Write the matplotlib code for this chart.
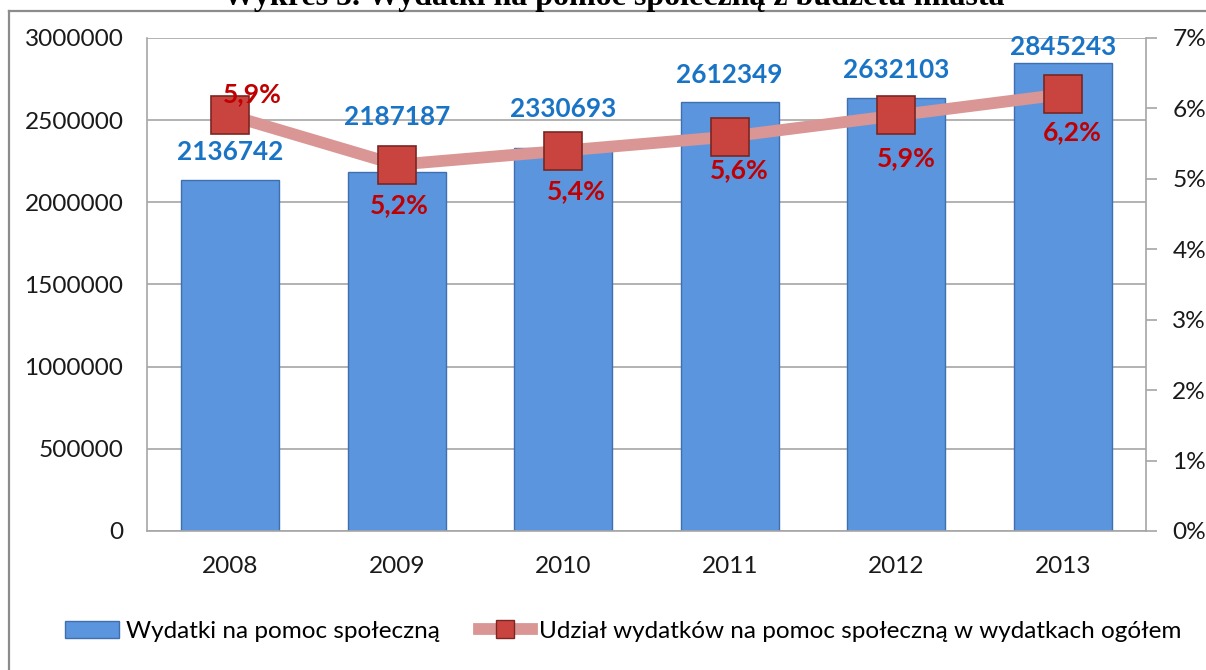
import matplotlib
matplotlib.use("Agg")
import numpy as np
import matplotlib.pyplot as plt
from matplotlib.lines import Line2D
from matplotlib.patches import Patch
from matplotlib.ticker import FuncFormatter

# Data
years = ["2008", "2009", "2010", "2011", "2012", "2013"]
spending = [2136742, 2187187, 2330693, 2612349, 2632103, 2845243]  # PLN
share_pct = [5.9, 5.2, 5.4, 5.6, 5.9, 6.2]  # % of total spending

plt.rcParams['font.family'] = ['Lato', 'DejaVu Sans']

bar_color = "#5b95de"
bar_edge = "#3f6fae"
line_color = "#d99694"
marker_face = "#c9443f"
marker_edge = "#7a2622"
grid_color = "#a6a6a6"

fig = plt.figure(figsize=(12.06, 6.70), dpi=100)
ax = fig.add_axes([0.1219, 0.2075, 0.8283, 0.7358])
ax2 = ax.twinx()

x = np.arange(len(years))
bars = ax.bar(x, spending, width=0.59, color=bar_color, edgecolor=bar_edge, linewidth=1.0, zorder=2)

ax.set_xlim(-0.5, len(years) - 0.5)
ax.set_ylim(0, 3000000)
ax.set_yticks(np.arange(0, 3000001, 500000))
ax.yaxis.set_major_formatter(FuncFormatter(lambda v, p: f"{int(v)}"))
ax.set_xticks(x)
ax.set_xticklabels(years)
ax.tick_params(axis="y", length=0, pad=17, labelsize=17.6, colors="#1a1a1a")
ax.tick_params(axis="x", length=0, pad=18, labelsize=17.6, colors="#1a1a1a")
ax.grid(axis="y", color=grid_color, linewidth=1.2)
ax.set_axisbelow(True)
for side in ["left", "bottom"]:
    ax.spines[side].set_color(grid_color)
    ax.spines[side].set_linewidth(1.2)
ax.spines["top"].set_visible(False)
ax.spines["right"].set_visible(False)

# share line on secondary axis
ax2.plot(x, share_pct, color=line_color, linewidth=8.5, solid_capstyle="butt",
         marker="s", markersize=27, markerfacecolor=marker_face,
         markeredgecolor=marker_edge, markeredgewidth=1.2, zorder=3)
ax2.set_ylim(0, 7)
ax2.set_yticks(np.arange(0, 8, 1))
ax2.yaxis.set_major_formatter(FuncFormatter(lambda v, p: f"{int(v)}%"))
ax2.tick_params(axis="y", length=8, width=1.2, color=grid_color, pad=11,
                labelsize=17.6, labelcolor="#1a1a1a")
for side in ["left", "bottom", "top"]:
    ax2.spines[side].set_visible(False)
ax2.spines["right"].set_color(grid_color)
ax2.spines["right"].set_linewidth(1.2)

# value labels (hand placed, as in the original)
bar_label_dy = [20, 47, 31, 19, 20, 8]
for xi, val, dy in zip(x, spending, bar_label_dy):
    ax2.annotate(f"{val}", xy=(xi, val / 3000000 * 7), xytext=(0, dy),
                 textcoords="offset pixels", ha="center", va="baseline",
                 fontsize=18.8, fontweight="bold", color="#1a74c6", zorder=5)

pct_label_off = [(22, 13), (3, -48), (13, -48), (10, -42), (10, -51), (10, -46)]
for xi, val, (dx, dy) in zip(x, share_pct, pct_label_off):
    ax2.annotate(f"{val:.1f}%".replace(".", ","), xy=(xi, val), xytext=(dx, dy),
                 textcoords="offset pixels", ha="center", va="baseline",
                 fontsize=19.2, fontweight="bold", color="#c00000", zorder=5)

# legend
handles = [
    Patch(facecolor=bar_color, edgecolor=bar_edge, linewidth=1.0),
    Line2D([0], [0], color=line_color, linewidth=8.5, marker="s", markersize=13,
           markerfacecolor=marker_face, markeredgecolor=marker_edge),
]
labels = ["Wydatki na pomoc społeczną",
          "Udział wydatków na pomoc społeczną w wydatkach ogółem"]
fig.legend(handles, labels, loc="center", bbox_to_anchor=(0.517, 0.058), ncol=2,
           frameon=False, fontsize=17.5, handlelength=2.2, handletextpad=0.3,
           columnspacing=1.6, numpoints=1)

# chart frame (partially cut off like in the scan)
frame_color = "#8c8c8c"
fig.add_artist(Line2D([9 / 1206, 9 / 1206], [0, 659 / 670], transform=fig.transFigure,
                      color=frame_color, linewidth=1.6))
fig.add_artist(Line2D([9 / 1206, 1], [659 / 670, 659 / 670], transform=fig.transFigure,
                      color=frame_color, linewidth=1.6))

# title, cut off at the top edge as in the scan
fig.text(0.509, 0.9925, "Wykres 5. Wydatki na pomoc społeczną z budżetu miasta",
         ha="center", va="baseline", fontsize=23, fontweight="bold",
         family="Liberation Serif")

fig.savefig("out.png", dpi=100)
